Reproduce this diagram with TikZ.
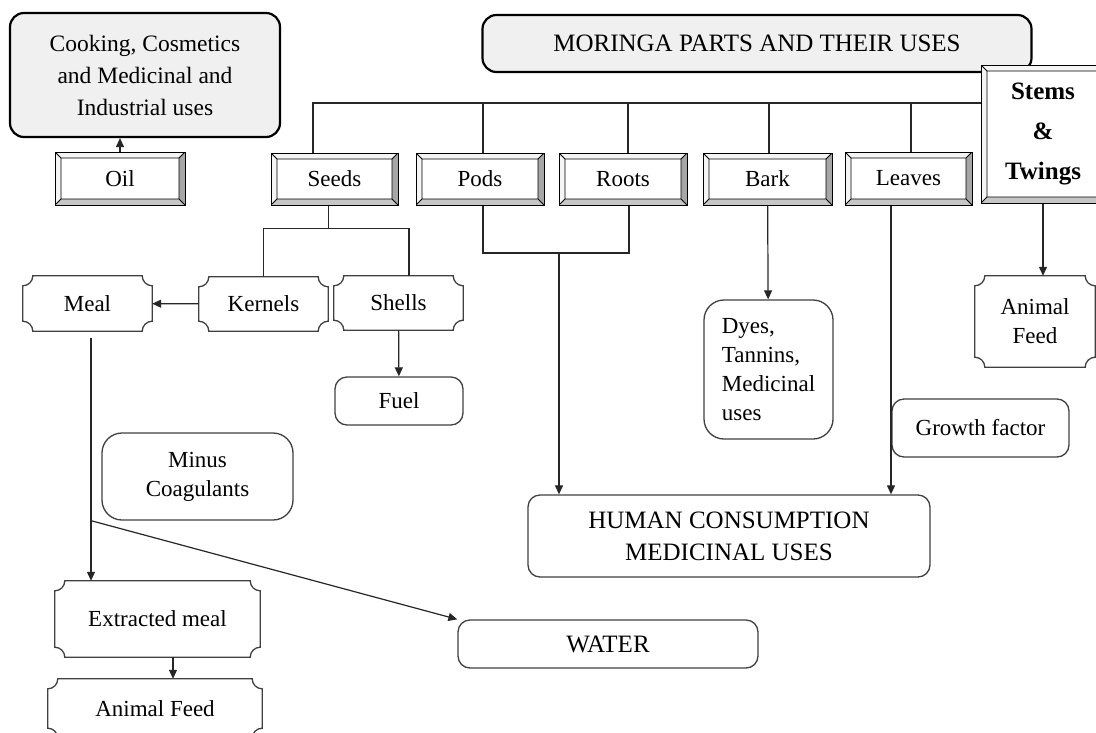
\documentclass[tikz,border=0pt]{standalone}
\usepackage{fontspec}
\setmainfont{Liberation Serif}
\usetikzlibrary{arrows.meta}

\newcommand{\txt}{\fontsize{23}{29}\selectfont}
\newcommand{\captxt}{\fontsize{25}{32}\selectfont}

\begin{document}
\begin{tikzpicture}[x=1pt, y=1pt, >={Triangle[length=9pt,width=8pt]},
  line/.style={black!85, line width=1.2pt},
  arr/.style={line, ->},
  titlebox/.style={draw, rounded corners=14pt, fill=gray!12, line width=2.2pt,
    align=center, inner sep=0pt, font=\captxt},
  usebox/.style={draw=black!75, rounded corners=12pt, line width=1.3pt,
    align=center, inner sep=0pt, font=\txt},
  plaque/.style={inner sep=0pt, align=center, font=\txt},
  plaqueline/.style={draw=black!75, line width=1.3pt},
  bevel/.style={draw, fill=white, line width=1pt, inner sep=0pt, font=\txt,
    path picture={
      \coordinate (bsw) at (path picture bounding box.south west);
      \coordinate (bne) at (path picture bounding box.north east);
      \coordinate (isw) at ([shift={(6pt,6pt)}]bsw);
      \coordinate (ine) at ([shift={(-6pt,-6pt)}]bne);
      \fill[gray!8] (bsw) -- (bsw|-bne) -- (bne) -- (ine) -- (isw|-ine) -- (isw) -- cycle;
      \fill[gray!45] (bsw) -- (bne|-bsw) -- (ine|-isw) -- (isw) -- cycle;
      \fill[gray!70] (bne) -- (bne|-bsw) -- (ine|-isw) -- (ine) -- cycle;
      \draw[line width=0.8pt] (isw) rectangle (ine) (bsw) -- (isw) (bsw|-bne) -- (isw|-ine)
        (bne) -- (ine) (bne|-bsw) -- (ine|-isw);
    }}]
  \useasboundingbox (0,0) rectangle (1096,-732);

  \node[titlebox, minimum width=270pt, minimum height=124pt, font=\fontsize{23.5}{32}\selectfont]
    (cook) at (145,-75) {Cooking, Cosmetics\\and Medicinal and\\Industrial uses};
  \node[titlebox, minimum width=549pt, minimum height=57pt] (title) at (757,-43.5)
    {MORINGA PARTS AND THEIR USES};

  \node[bevel, minimum width=130pt, minimum height=53pt] (oil) at (120,-178.5) {Oil};
  \node[bevel, minimum width=127pt, minimum height=52pt] (seeds) at (334.5,-179) {Seeds};
  \node[bevel, minimum width=128pt, minimum height=52pt] (pods) at (480,-179) {Pods};
  \node[bevel, minimum width=128pt, minimum height=52pt] (roots) at (623,-179) {Roots};
  \node[bevel, minimum width=129pt, minimum height=52pt] (bark) at (767.5,-179) {Bark};
  \node[bevel, minimum width=127pt, minimum height=53pt] (leaves) at (908.5,-178.5) {Leaves};
  \node[bevel, minimum width=124pt, minimum height=138pt, align=center,
    font=\fontsize{25}{40}\selectfont\bfseries] (stems) at (1043,-134) {Stems\\\&\\Twings};

  \node[plaque, minimum width=129pt, minimum height=55pt] (meal) at (87.5,-303.5) {Meal};
  \node[plaque, minimum width=129pt, minimum height=54pt] (kernels) at (263.5,-304) {Kernels};
  \node[plaque, minimum width=129pt, minimum height=54pt] (shells) at (398.5,-303) {Shells};
  \node[plaque, minimum width=120pt, minimum height=91pt] (feedA) at (1035,-321.5) {Animal\\Feed};
  \node[plaque, minimum width=205pt, minimum height=76pt] (exmeal) at (157.5,-619) {Extracted meal};
  \node[plaque, minimum width=214pt, minimum height=59pt] (feedB) at (155,-708.5) {Animal Feed};

  \node[usebox, minimum width=128pt, minimum height=48pt] (fuel) at (399,-401) {Fuel};
  \node[usebox, rounded corners=20pt, minimum width=129pt, minimum height=139pt, align=left]
    (dyes) at (768.5,-369.5) {Dyes,\\Tannins,\\Medicinal\\uses};
  \node[usebox, rounded corners=20pt, minimum width=191pt, minimum height=87pt]
    (minus) at (197.5,-476.5) {Minus\\Coagulants};
  \node[usebox, minimum width=177pt, minimum height=58pt] (growth) at (980.5,-428) {Growth factor};
  \node[usebox, minimum width=402pt, minimum height=82pt, font=\captxt] (hc) at (729,-536)
    {HUMAN CONSUMPTION\\MEDICINAL USES};
  \node[usebox, minimum width=300pt, minimum height=48pt, font=\captxt] (water) at (608,-644) {WATER};

  \foreach \n in {meal,kernels,shells,feedA,exmeal,feedB}
    \draw[plaqueline] ([xshift=10pt]\n.north west) -- ([xshift=-10pt]\n.north east)
      arc[start angle=180, end angle=270, radius=10pt] -- ([yshift=10pt]\n.south east)
      arc[start angle=90, end angle=180, radius=10pt] -- ([xshift=10pt]\n.south west)
      arc[start angle=0, end angle=90, radius=10pt] -- ([yshift=-10pt]\n.north west)
      arc[start angle=270, end angle=360, radius=10pt] -- cycle;

  \coordinate (bus) at (981,-103);
  \foreach \n/\d in {seeds/-21.5, pods/3, roots/5, bark/1.5, leaves/2.5}
    \draw[line] ([xshift=\d pt]\n.north) |- (bus);

  \draw[arr] (oil.north) -- (oil.north |- cook.south);

  \draw[line] ([xshift=-6pt]seeds.south) -- ++(0,-23) coordinate (split);
  \draw[line] (kernels.north) |- (split) -| ([xshift=10.5pt]shells.north);
  \draw[arr] (kernels) -- (meal);
  \draw[arr] (shells) -- (fuel);

  \coordinate (pr) at (559,-253);
  \draw[line] ([xshift=3pt]pods.south) |- (pr) -| ([xshift=6pt]roots.south);
  \draw[arr] (pr) -- (pr |- hc.north);
  \draw[arr] (bark) -- (dyes);
  \draw[arr] ([xshift=-17.5pt]leaves.south) coordinate (lf) -- (lf |- hc.north);
  \draw[arr] (stems.south) -- (stems.south |- feedA.north);

  \draw[arr] ([shift={(3.5pt,-7pt)}]meal.south) coordinate (ms) -- (ms |- exmeal.north);
  \draw[arr] (ms |- minus.south) -- (water.north west);
  \draw[arr] ([xshift=15.5pt]exmeal.south) coordinate (es) -- (es |- feedB.north);
\end{tikzpicture}
\end{document}
